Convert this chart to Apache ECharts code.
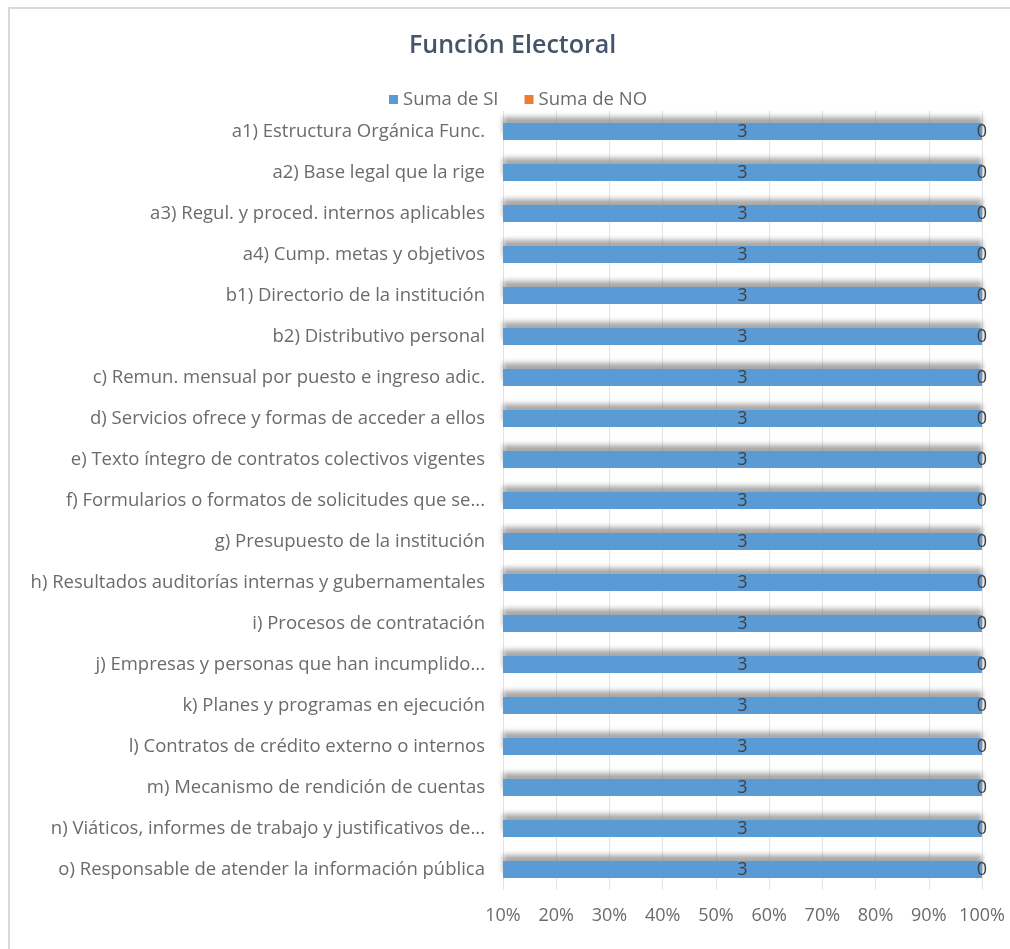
<!DOCTYPE html>
<html>
<head>
<meta charset="utf-8">
<script src="https://cdn.jsdelivr.net/npm/echarts@6/dist/echarts.min.js"></script>
<style>
html,body{margin:0;padding:0;background:#fff;}
#frame{position:absolute;left:8px;top:7px;width:1010px;height:960px;border-left:2px solid #d9d9d9;border-top:2px solid #d9d9d9;box-sizing:border-box;}
#c{position:absolute;left:0;top:0;width:1010px;height:949px;}
</style>
</head>
<body>
<div id="frame"></div>
<div id="c"></div>
<script>
const categories = [
  "a1) Estructura Orgánica Func.",
  "a2) Base legal que la rige",
  "a3) Regul. y proced. internos aplicables",
  "a4) Cump. metas y objetivos",
  "b1) Directorio de la institución",
  "b2) Distributivo personal",
  "c) Remun. mensual por puesto e ingreso adic.",
  "d) Servicios ofrece y formas de acceder a ellos",
  "e) Texto íntegro de contratos colectivos vigentes",
  "f) Formularios o formatos de solicitudes que se...",
  "g) Presupuesto de la institución",
  "h) Resultados auditorías internas y gubernamentales",
  "i) Procesos de contratación",
  "j) Empresas y personas que han incumplido...",
  "k) Planes y programas en ejecución",
  "l) Contratos de crédito externo o internos",
  "m) Mecanismo de rendición de cuentas",
  "n) Viáticos, informes de trabajo y justificativos de...",
  "o) Responsable de atender la información pública"
];
const sumaSI = [3,3,3,3,3,3,3,3,3,3,3,3,3,3,3,3,3,3,3];
const sumaNO = [0,0,0,0,0,0,0,0,0,0,0,0,0,0,0,0,0,0,0];
const seriesNames = ["Suma de SI", "Suma de NO"];
const axisMin = 10, axisMax = 100, axisStep = 10;

const totals = sumaSI.map((v, i) => v + sumaNO[i]);
const pctSI = sumaSI.map((v, i) => totals[i] ? v / totals[i] * 100 : 0);
const pctNO = sumaNO.map((v, i) => totals[i] ? v / totals[i] * 100 : 0);

const FONT = 'Open Sans';
const chart = echarts.init(document.getElementById('c'));
chart.setOption({
  animation: false,
  textStyle: {fontFamily: FONT},
  title: {
    text: 'Función Electoral',
    left: 404, top: 28,
    textStyle: {fontFamily: FONT, fontSize: 25, fontWeight: 600, color: '#44546A'}
  },
  legend: {
    top: 85, left: 384,
    itemWidth: 9, itemHeight: 9, itemGap: 26,
    icon: 'rect',
    textStyle: {fontFamily: FONT, fontSize: 18.5, color: '#6b6b6b'},
    data: seriesNames
  },
  grid: {left: 503, right: 28, top: 111, bottom: 59, containLabel: false},
  xAxis: {
    type: 'value', min: axisMin, max: axisMax, interval: axisStep,
    axisLabel: {formatter: '{value}%', fontFamily: FONT, fontSize: 18, color: '#6b6b6b', margin: 17},
    splitLine: {lineStyle: {color: '#e3e3e3'}},
    axisLine: {show: false}, axisTick: {show: false}
  },
  yAxis: {
    type: 'category', data: categories, inverse: true,
    axisLabel: {fontFamily: FONT, fontSize: 18.5, color: '#6b6b6b', margin: 18},
    axisLine: {show: false}, axisTick: {show: false}
  },
  series: [
    {
      name: seriesNames[0], type: 'bar', stack: 's', barWidth: 17,
      data: pctSI,
      itemStyle: {color: '#5B9BD5', shadowColor: 'rgba(110,110,110,0.6)', shadowBlur: 5, shadowOffsetY: -6},
      label: {show: true, position: 'inside', formatter: p => sumaSI[p.dataIndex], fontFamily: FONT, fontSize: 18, color: '#404040'}
    },
    {
      name: seriesNames[1], type: 'bar', stack: 's', barWidth: 17,
      data: pctNO,
      itemStyle: {color: '#ED7D31'},
      label: {show: true, position: 'inside', formatter: p => sumaNO[p.dataIndex], fontFamily: FONT, fontSize: 18, color: '#404040'}
    }
  ]
});
</script>
</body>
</html>
